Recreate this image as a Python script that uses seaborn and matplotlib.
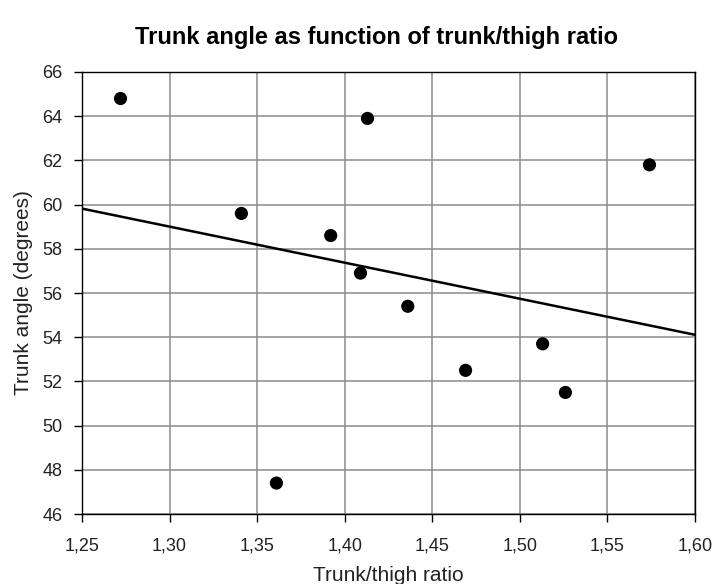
import numpy as np
import pandas as pd
import matplotlib
matplotlib.use("Agg")
import matplotlib.pyplot as plt
import seaborn as sns
from matplotlib.ticker import FuncFormatter

# data
trunk_thigh_ratio = [1.272, 1.341, 1.361, 1.392, 1.409, 1.413, 1.436, 1.469, 1.513, 1.526, 1.574]
trunk_angle = [64.8, 59.6, 47.4, 58.6, 56.9, 63.9, 55.4, 52.5, 53.7, 51.5, 61.8]

x_ticks = [1.25, 1.30, 1.35, 1.40, 1.45, 1.50, 1.55, 1.60]
y_ticks = [46, 48, 50, 52, 54, 56, 58, 60, 62, 64, 66]

df = pd.DataFrame({"ratio": trunk_thigh_ratio, "angle": trunk_angle})

sns.set_style("ticks")
plt.rcParams["font.family"] = ["Liberation Sans", "DejaVu Sans"]

fig = plt.figure(figsize=(7.14, 5.84), dpi=100)
ax = fig.add_axes([82 / 714, 70 / 584, 613 / 714, 442 / 584])

# limits first so the regression line spans the full axis
ax.set_xlim(x_ticks[0], x_ticks[-1])
ax.set_ylim(y_ticks[0], y_ticks[-1])

sns.regplot(data=df, x="ratio", y="angle", ax=ax, ci=None, truncate=False,
            scatter_kws=dict(s=90, color="black", alpha=1, edgecolor="none", zorder=4),
            line_kws=dict(color="black", lw=1.8, zorder=3))

ax.set_xlim(x_ticks[0], x_ticks[-1])
ax.set_ylim(y_ticks[0], y_ticks[-1])
ax.set_xticks(x_ticks)
ax.set_yticks(y_ticks)
ax.xaxis.set_major_formatter(FuncFormatter(lambda v, p: f"{v:.2f}".replace(".", ",")))
ax.grid(True, color="#8c8c8c", lw=1.1)
ax.set_axisbelow(True)

for s in ax.spines.values():
    s.set_visible(True)
    s.set_color("black")
    s.set_linewidth(1.0)

ax.tick_params(axis="both", direction="out", length=6, width=1, color="black",
               labelsize=13, labelcolor="#222222")
ax.tick_params(axis="x", pad=11)
ax.tick_params(axis="y", pad=8)

ax.set_xlabel("Trunk/thigh ratio", fontsize=15, labelpad=8, color="#222222")
ax.set_ylabel("Trunk angle (degrees)", fontsize=15, labelpad=7, color="#222222")
ax.set_title("Trunk angle as function of trunk/thigh ratio", fontsize=17,
             fontweight="bold", pad=20, color="black", x=0.481)

fig.savefig("out.png", dpi=100)
